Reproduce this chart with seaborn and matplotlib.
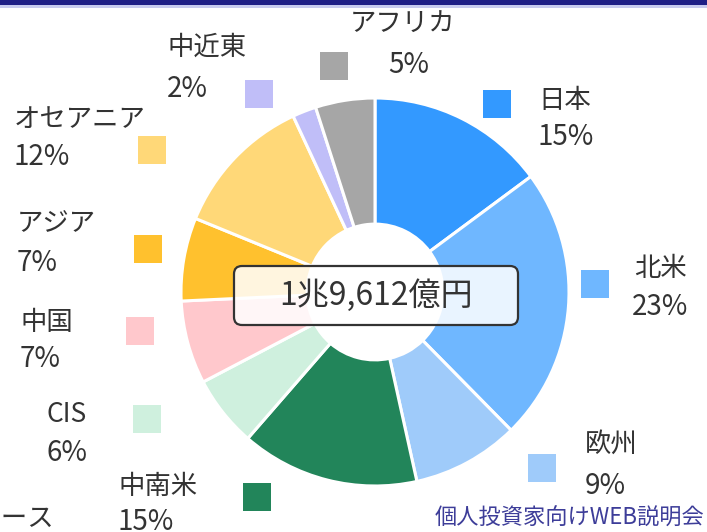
import matplotlib
matplotlib.use("Agg")
import matplotlib.pyplot as plt
import seaborn as sns
from matplotlib.patches import Rectangle, FancyBboxPatch

# ---- data ----
regions = ["日本", "北米", "欧州", "中南米", "CIS", "中国", "アジア", "オセアニア", "中近東", "アフリカ"]
shares = [15, 23, 9, 15, 6, 7, 7, 12, 2, 5]
colors = ["#3399FF", "#6FB7FF", "#9FCBFA", "#22855A", "#CFF0DE",
          "#FFC8CC", "#FFC12E", "#FFD878", "#C0BEF8", "#A6A6A6"]
total_label = "1兆9,612億円"
footer = "個人投資家向けWEB説明会"
cut_note = "売上収益ベース"

# ---- layout (pixel coordinates, top-left origin) ----
W, H = 707, 532
center_px = (375, 292)
radius_px = 194
hole_frac = 0.35
# (name_x, name_y, pct_x, pct_y, square_x, square_y)
label_pos = [
    (538, 101, 538, 137, 497, 104),
    (634, 269, 632, 307, 595, 284),
    (585, 444, 585, 486, 542, 468),
    (118, 486, 118, 522, 257, 497),
    (46, 415, 46, 453, 147, 419),
    (20, 323, 20, 359, 140, 331),
    (17, 224, 17, 263, 148, 249),
    (14, 120, 14, 157, 152, 150),
    (167, 47, 167, 89, 259, 94),
    (350, 23, 388, 65, 334, 66),
]

sns.set_theme(style="white")
plt.rcParams["font.family"] = ["Noto Sans CJK JP", "DejaVu Sans"]

fig = plt.figure(figsize=(W / 100, H / 100), dpi=100)
fig.patch.set_facecolor("white")
ax = fig.add_axes([0, 0, 1, 1])

def Y(y):
    return H - y

wedges, _ = ax.pie(
    shares, colors=colors, startangle=90, counterclock=False,
    center=(center_px[0], Y(center_px[1])), radius=radius_px,
    wedgeprops=dict(width=radius_px * (1 - hole_frac), edgecolor="white", linewidth=2.2),
)
ax.set_xlim(0, W)
ax.set_ylim(0, H)
ax.set_aspect("equal")
ax.axis("off")

txtc = "#333333"
fs = 19
sq = 28
for name, val, col, (nx, ny, px, py, sx, sy) in zip(regions, shares, colors, label_pos):
    ax.add_patch(Rectangle((sx - sq / 2, Y(sy) - sq / 2), sq, sq, facecolor=col, edgecolor="none"))
    ax.text(nx, Y(ny), name, ha="left", va="center", fontsize=fs, color=txtc)
    ax.text(px, Y(py), f"{val}%", ha="left", va="center", fontsize=fs + 1, color=txtc)

# centre box
bx0, by0, bx1, by1 = 234, 266, 518, 325
box = FancyBboxPatch((bx0, Y(by1)), bx1 - bx0, by1 - by0,
                     boxstyle="round,pad=0,rounding_size=8",
                     facecolor=(1, 1, 1, 0.85), edgecolor="#333333", linewidth=1.6, zorder=5)
ax.add_patch(box)
ax.text((bx0 + bx1) / 2, Y(296), total_label, ha="center", va="center",
        fontsize=23, color="#333333", zorder=6)

# top band
ax.add_patch(Rectangle((0, H - 5), W, 5, facecolor="#1f1f86", edgecolor="none", zorder=7))
ax.add_patch(Rectangle((0, H - 8), W, 3, facecolor="#c8cbef", edgecolor="none", zorder=7))

# footer & cut note
ax.text(704, Y(518), footer, ha="right", va="center", fontsize=16, color="#3d3d99")
ax.text(54, Y(518), cut_note, ha="right", va="center", fontsize=fs, color=txtc)

fig.savefig("out.png", dpi=100, facecolor="white")
